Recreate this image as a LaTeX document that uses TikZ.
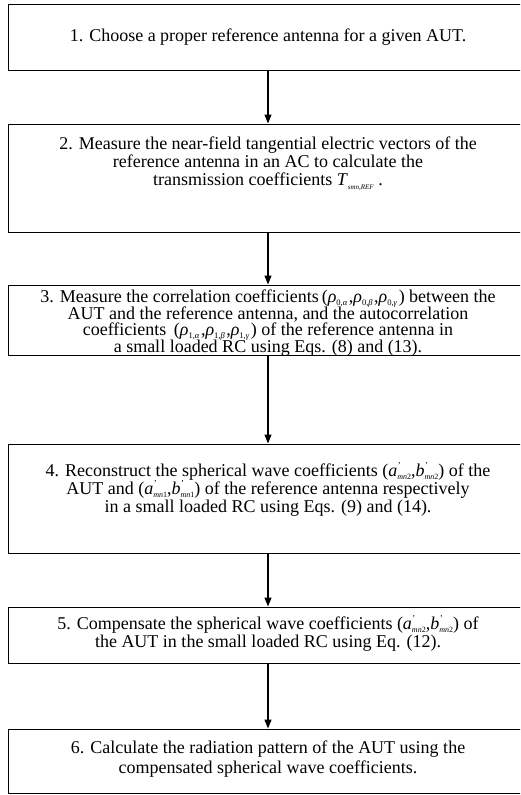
\documentclass[tikz,border=0pt]{standalone}
\usepackage{fontspec}
\setmainfont{Liberation Serif}
\usetikzlibrary{arrows.meta}
\newcommand{\rh}[2]{\textit{ρ}\smash{\raisebox{-0.35ex}{\fontsize{8.5}{8.5}\selectfont #1,\textit{#2}}}\kern1.5pt}
\newcommand{\ap}[2]{\textit{#1}\smash{\rlap{\raisebox{1.0ex}{\fontsize{9}{9}\selectfont\kern0.5pt '}}\raisebox{-0.4ex}{\fontsize{8}{8}\selectfont\textit{mn}#2}}}
\tikzset{
  stepbox/.style={draw=black, line width=1pt, minimum width=520pt, inner sep=0pt},
  steptext/.style={align=center, inner sep=0pt, font=\fontsize{18}{18}\selectfont},
  flow/.style={draw=black, line width=1.3pt, -{Triangle[length=9pt,width=7pt]}}
}
\begin{document}
\begin{tikzpicture}[x=1pt,y=-1pt]
\clip (0,0) rectangle (520,795);
\fill[white] (0,0) rectangle (520,795);
\node[stepbox, minimum height=66pt] (s1) at (268,37) {};
\node[stepbox, minimum height=108pt] (s2) at (268,178) {};
\node[stepbox, minimum height=70pt] (s3) at (268,320) {};
\node[stepbox, minimum height=109pt] (s4) at (268,498.5) {};
\node[stepbox, minimum height=56pt] (s5) at (268,635) {};
\node[stepbox, minimum height=64pt] (s6) at (268,761) {};
\node[steptext] (t1) at (268,37) {1. Choose a proper reference antenna for a given AUT.};
\node[steptext] (t2) at (268,161) {2. Measure the near-field tangential electric vectors of the\\reference antenna in an AC to calculate the\\transmission coefficients \textit{T}\smash{\raisebox{-0.5ex}{\fontsize{7}{7}\selectfont\textit{smn,REF}}} .};
\node[steptext, font=\fontsize{18}{15.5}\selectfont] (t3) at (268,323) {3. Measure the correlation coefficients\,(\rh{0}{α},\rh{0}{β},\rh{0}{γ}) between the\\AUT and the reference antenna, and the autocorrelation\\coefficients \,(\rh{1}{α},\rh{1}{β},\rh{1}{γ}) of the reference antenna in\\a small loaded RC using Eqs. (8) and (13).};
\node[steptext] (t4) at (268,490) {4. Reconstruct the spherical wave coefficients (\ap{a}{2},\ap{b}{2}) of the\\AUT and (\ap{a}{1},\ap{b}{1}) of the reference antenna respectively\\in a small loaded RC using Eqs. (9) and (14).};
\node[steptext] (t5) at (268,634) {5. Compensate the spherical wave coefficients (\ap{a}{2},\ap{b}{2}) of\\the AUT in the small loaded RC using Eq. (12).};
\node[steptext, font=\fontsize{18}{20}\selectfont] (t6) at (268,759) {6. Calculate the radiation pattern of the AUT using the\\compensated spherical wave coefficients.};
\draw[flow] (s1.south) -- (s2.north);
\draw[flow] (s2.south) -- (s3.north);
\draw[flow] (s3.south) -- (s4.north);
\draw[flow] (s4.south) -- (s5.north);
\draw[flow] (s5.south) -- (s6.north);
\end{tikzpicture}
\end{document}
